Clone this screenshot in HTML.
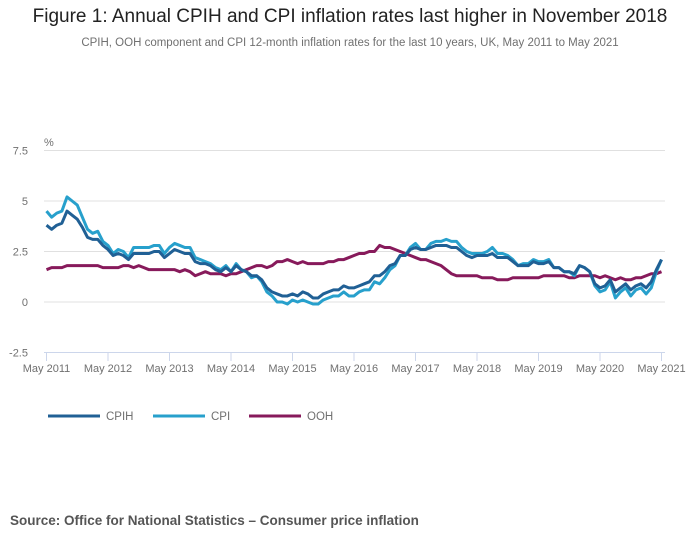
<!DOCTYPE html>
<html><head><meta charset="utf-8">
<style>
html,body{margin:0;padding:0;background:#fff;}
body{width:700px;height:549px;position:relative;overflow:hidden;font-family:"Liberation Sans",sans-serif;}
#title{position:absolute;left:0;width:700px;top:6px;text-align:center;font-size:19px;color:#222;}
#sub{position:absolute;left:0;width:700px;top:37px;text-align:center;font-size:11.5px;color:#707070;}
#src{position:absolute;left:10px;top:513px;font-size:13.5px;font-weight:bold;color:#555;}
svg{position:absolute;left:0;top:0;}
</style></head><body>
<div id="title">Figure 1: Annual CPIH and CPI inflation rates last higher in November 2018</div>
<div id="sub">CPIH, OOH component and CPI 12-month inflation rates for the last 10 years, UK, May 2011 to May 2021</div>
<svg id="chart" width="700" height="549"></svg>
<div id="src">Source: Office for National Statistics – Consumer price inflation</div>
<script>
const yTicks=[7.5,5,2.5,0,-2.5];
const yTickLabels=["7.5","5","2.5","0","-2.5"];
const xTickLabels=["May 2011","May 2012","May 2013","May 2014","May 2015","May 2016","May 2017","May 2018","May 2019","May 2020","May 2021"];
const cpi=[4.5,4.2,4.4,4.5,5.2,5.0,4.8,4.2,
3.6,3.4,3.5,3.0,2.8,2.4,2.6,2.5,2.2,2.7,2.7,2.7,
2.7,2.8,2.8,2.4,2.7,2.9,2.8,2.7,2.7,2.2,2.1,2.0,
1.9,1.7,1.6,1.8,1.5,1.9,1.6,1.5,1.2,1.3,1.0,0.5,
0.3,0.0,0.0,-0.1,0.1,0.0,0.1,0.0,-0.1,-0.1,0.1,0.2,
0.3,0.3,0.5,0.3,0.3,0.5,0.6,0.6,1.0,0.9,1.2,1.6,
1.8,2.3,2.3,2.7,2.9,2.6,2.6,2.9,3.0,3.0,3.1,3.0,
3.0,2.7,2.5,2.4,2.4,2.4,2.5,2.7,2.4,2.4,2.3,2.1,
1.8,1.9,1.9,2.1,2.0,2.0,2.1,1.7,1.7,1.5,1.5,1.3,
1.8,1.7,1.5,0.8,0.5,0.6,1.0,0.2,0.5,0.7,0.3,0.6,
0.7,0.4,0.7,1.5,2.1];
const cpih=[3.8,3.6,3.8,3.9,4.5,4.3,4.1,3.7,
3.2,3.1,3.1,2.8,2.6,2.3,2.4,2.3,2.1,2.4,2.4,2.4,
2.4,2.5,2.5,2.2,2.4,2.6,2.5,2.4,2.4,2.0,1.9,1.9,
1.8,1.6,1.5,1.7,1.5,1.8,1.6,1.5,1.3,1.3,1.1,0.7,
0.5,0.4,0.3,0.3,0.4,0.3,0.5,0.4,0.2,0.2,0.4,0.5,
0.6,0.6,0.8,0.7,0.7,0.8,0.9,1.0,1.3,1.3,1.5,1.8,
1.9,2.3,2.3,2.6,2.7,2.6,2.6,2.7,2.8,2.8,2.8,2.7,
2.7,2.5,2.3,2.2,2.3,2.3,2.3,2.4,2.2,2.2,2.2,2.0,
1.8,1.8,1.8,2.0,1.9,1.9,2.0,1.7,1.7,1.5,1.5,1.4,
1.8,1.7,1.5,0.9,0.7,0.8,1.1,0.5,0.7,0.9,0.6,0.8,
0.9,0.7,1.0,1.6,2.1];
const ooh=[1.6,1.7,1.7,1.7,1.8,1.8,1.8,1.8,
1.8,1.8,1.8,1.7,1.7,1.7,1.7,1.8,1.8,1.7,1.8,1.7,
1.6,1.6,1.6,1.6,1.6,1.6,1.5,1.6,1.5,1.3,1.4,1.5,
1.4,1.4,1.4,1.3,1.4,1.4,1.5,1.6,1.7,1.8,1.8,1.7,
1.8,2.0,2.0,2.1,2.0,1.9,2.0,1.9,1.9,1.9,1.9,2.0,
2.0,2.1,2.1,2.2,2.3,2.4,2.4,2.5,2.5,2.8,2.7,2.7,
2.6,2.5,2.4,2.3,2.2,2.1,2.1,2.0,1.9,1.8,1.6,1.4,
1.3,1.3,1.3,1.3,1.3,1.2,1.2,1.2,1.1,1.1,1.1,1.2,
1.2,1.2,1.2,1.2,1.2,1.3,1.3,1.3,1.3,1.3,1.2,1.2,
1.3,1.3,1.3,1.3,1.2,1.3,1.2,1.1,1.2,1.1,1.1,1.2,
1.2,1.3,1.4,1.4,1.5];
const seriesNames=["CPIH","CPI","OOH"];

const NS="http://www.w3.org/2000/svg";
const svg=document.getElementById('chart');
const X0=46.5,X1=661.5,Y0=302,PU=20.2;
function x(i){return X0+(X1-X0)*i/120;}
function y(v){return Y0-v*PU;}
function mk(t,a){const e=document.createElementNS(NS,t);for(const k in a)e.setAttribute(k,a[k]);svg.appendChild(e);return e;}

yTicks.forEach((v,i)=>{
  const g=mk('line',{x1:44,x2:665,y1:y(v),y2:y(v),stroke:'#e0e0e0','stroke-width':1});
  
  
  const t=mk('text',{x:28,y:y(v)+4,'text-anchor':'end','font-size':11,fill:'#707070','font-family':'Liberation Sans, sans-serif'});
  t.textContent=yTickLabels[i];
  
  
});
const unit=mk('text',{x:44,y:146,'font-size':11,fill:'#707070','font-family':'Liberation Sans, sans-serif'});
unit.textContent='%';


const ax=mk('line',{x1:44,x2:665,y1:352.5,y2:352.5,stroke:'#ccd6eb','stroke-width':1});


xTickLabels.forEach((l,i)=>{
  const xi=x(i*12);
  const tk=mk('line',{x1:xi,x2:xi,y1:352,y2:361,stroke:'#ccd6eb','stroke-width':1});
  
  
  const t=mk('text',{x:xi,y:372,'text-anchor':'middle','font-size':11,fill:'#707070','font-family':'Liberation Sans, sans-serif'});
  t.textContent=l;
  
  
});
function line(data,color,name){
  const p=mk('polyline',{points:data.map((v,i)=>x(i)+','+y(v)).join(' '),fill:'none',stroke:color,'stroke-width':3,'stroke-linejoin':'round'});
  
  
}
line(ooh,'#871a5b','ooh-line');
line(cpi,'#27a0cc','cpi-line');
line(cpih,'#206095','cpih-line');

const legX=[48,153,249],cols=['#206095','#27a0cc','#871a5b'];
seriesNames.forEach((n,i)=>{
  const l=mk('line',{x1:legX[i],x2:legX[i]+52,y1:416,y2:416,stroke:cols[i],'stroke-width':3});
  
  
  const t=mk('text',{x:legX[i]+58,y:420,'font-size':11.5,fill:'#707070','font-family':'Liberation Sans, sans-serif'});
  t.textContent=n;
  
  
});
</script>
</body></html>
